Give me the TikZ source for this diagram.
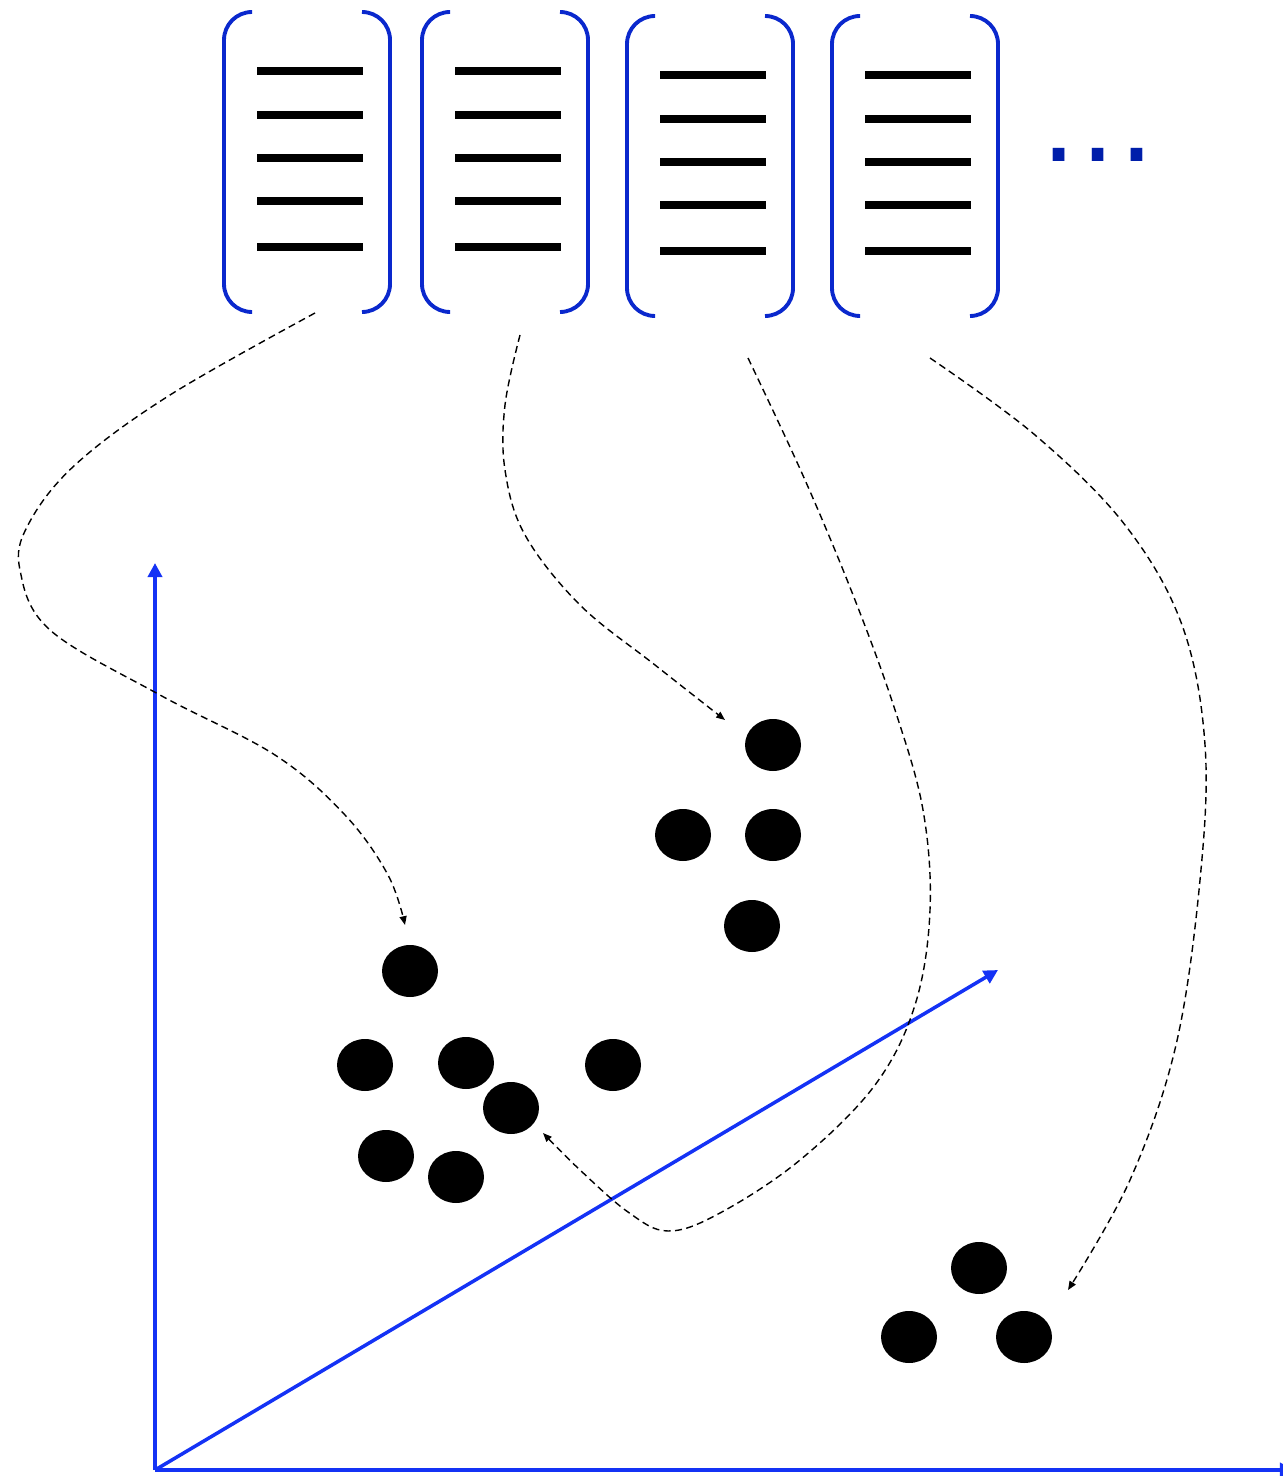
\documentclass[tikz,border=0pt]{standalone}
\usepackage{fontspec}
\setmainfont{Liberation Sans}
\usetikzlibrary{arrows.meta,shapes.geometric}
\definecolor{brkblue}{RGB}{10,40,205}
\definecolor{axblue}{RGB}{20,50,245}
\definecolor{moreblue}{RGB}{0,30,170}
\begin{document}
\begin{tikzpicture}[x=.02cm,y=-.02cm,
  brk/.style={draw=brkblue,line width=2.2pt,rounded corners=.56cm},
  bar/.style={line width=4pt},
  axis/.style={draw=axblue,line width=2pt,-{Triangle[length=8pt,width=8pt]}},
  link/.style={line width=.8pt,dash pattern=on 4pt off 2.5pt,-{Triangle[length=5pt,width=4pt]}},
  pt/.style={ellipse,fill,inner sep=0pt,minimum width=1.12cm,minimum height=1.04cm}]
\useasboundingbox(0,0)rectangle(1283,1476);
% vectors
\foreach \x/\y in {224/12,422/12,627/16,832/16}{
  \draw[brk](\x+28,\y)-|(\x,\y+300)--(\x+28,\y+300);
  \draw[brk](\x+138,\y)-|(\x+166,\y+300)--(\x+138,\y+300);
  \foreach \d in {59,103,146,189,235}\draw[bar](\x+33,\y+\d)--(\x+139,\y+\d);
}
\node[text=moreblue,font=\fontsize{70}{70}\selectfont,inner sep=0pt](more)at(1098,155){…};
\coordinate(v1)at(315,313);\coordinate(v2)at(520,335);
\coordinate(v3)at(748,358);\coordinate(v4)at(930,358);
% axes
\coordinate(o)at(155,1470);
\coordinate(ey)at(155,563);\coordinate(ex)at(1294,1470);\coordinate(ez)at(998,970);
\draw[axis](o)--(ey);\draw[axis](o)--(ex);\draw[axis](o)--(ez);
% points
\node[pt](a1)at(773,745){};\node[pt](a2)at(683,835){};\node[pt](a3)at(773,835){};\node[pt](a4)at(752,926){};
\node[pt](b1)at(410,971){};\node[pt](b2)at(365,1065){};\node[pt](b3)at(466,1063){};\node[pt](b4)at(613,1065){};
\node[pt](b5)at(511,1108){};\node[pt](b6)at(386,1156){};\node[pt](b7)at(456,1177){};
\node[pt](c1)at(979,1268){};\node[pt](c2)at(909,1337){};\node[pt](c3)at(1024,1337){};
\coordinate(t1)at(405,925);\coordinate(t2)at(725,720);\coordinate(t3)at(543,1133);\coordinate(t4)at(1068,1290);
% embeddings
\draw[link]plot[smooth,tension=.6]coordinates{(v1)(170,395)(75,465)(28,525)(20,570)(50,630)(160,695)(275,755)(345,815)(388,875)(t1)};
\draw[link]plot[smooth,tension=.6]coordinates{(v2)(505,405)(505,470)(525,535)(580,605)(655,665)(t2)};
\draw[link]plot[smooth,tension=.6]coordinates{(v3)(805,480)(855,600)(895,710)(923,810)(930,910)(915,1005)(875,1085)(800,1160)(720,1213)(668,1231)(628,1212)(580,1170)(t3)};
\draw[link]plot[smooth,tension=.6]coordinates{(v4)(1035,435)(1125,525)(1182,625)(1205,745)(1200,880)(1176,1045)(1130,1180)(t4)};
\end{tikzpicture}
\end{document}
